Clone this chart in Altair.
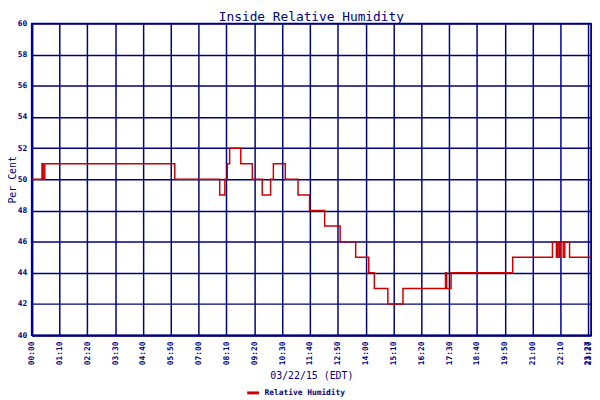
import altair as alt
import pandas as pd

# Time of reading (minutes after midnight) and relative humidity (%)
minutes = [0, 26, 29, 33, 360, 473, 486, 492, 498, 526, 555, 580, 601, 608,
           638, 670, 699, 737, 776, 815, 848, 862, 896, 934, 1041, 1044, 1055,
           1210, 1310, 1320, 1323, 1327, 1329, 1337, 1341, 1353, 1407]
humidity = [50, 51, 50, 51, 50, 49, 50, 51, 52, 51, 50, 49, 50, 51,
            50, 49, 48, 47, 46, 45, 44, 43, 42, 43, 44, 43, 44,
            45, 46, 45, 46, 45, 46, 45, 46, 45, 45]
series_name = "Relative Humidity"
chart_title = ["Inside Relative Humidity"]
x_ticks = [0, 70, 140, 210, 280, 350, 420, 490, 560, 630, 700, 770, 840,
           910, 980, 1050, 1120, 1190, 1260, 1330, 1400, 1407]
y_ticks = [40, 42, 44, 46, 48, 50, 52, 54, 56, 58, 60]

df = pd.DataFrame({"minute": minutes, "rh": humidity, "series": series_name})
title_df = pd.DataFrame({"t": chart_title})

NAVY = "#000080"
FONT = "DejaVu Sans Mono"

label_expr = ("(floor(datum.value/60)<10?'0':'') + floor(datum.value/60) + ':' + "
              "(datum.value%60<10?'0':'') + (datum.value%60)")

line = alt.Chart(df).mark_line(interpolate="step-after", strokeWidth=1.5).encode(
    x=alt.X(
        "minute:Q",
        scale=alt.Scale(domain=[0, 1407], nice=False, zero=False),
        axis=alt.Axis(
            values=x_ticks, labelExpr=label_expr, labelAngle=270,
            labelAlign="right",
            labelBaseline={"condition": {"test": "datum.value >= 1407", "value": "bottom"},
                           "value": "middle"},
            labelPadding=6,
            ticks=False, labelOverlap=False, labelFlush=False,
            labelFont=FONT, labelFontSize=8, labelFontWeight="bold", labelColor=NAVY,
            title="03/22/15 (EDT)", titleY=44, titleBaseline="alphabetic",
            titleFont=FONT, titleFontSize=10, titleFontWeight="normal", titleColor=NAVY,
            grid=True, gridColor=NAVY, gridWidth=1.5, gridOpacity=1,
            domainColor=NAVY, domainWidth=2,
        ),
    ),
    y=alt.Y(
        "rh:Q",
        scale=alt.Scale(domain=[40, 60], nice=False, zero=False),
        axis=alt.Axis(
            values=y_ticks, ticks=False, labelPadding=5, labelOverlap=False,
            labelFlush=False, labelBaseline="middle",
            labelFont=FONT, labelFontSize=8, labelFontWeight="bold", labelColor=NAVY,
            title="Per Cent", titleX=-16.5, titleY=158, titleAngle=270,
            titleBaseline="alphabetic", titleAlign="center",
            titleFont=FONT, titleFontSize=10, titleFontWeight="normal", titleColor=NAVY,
            grid=True, gridColor=NAVY, gridWidth=1.5, gridOpacity=1,
            domainColor=NAVY, domainWidth=2.5,
        ),
    ),
    color=alt.Color(
        "series:N",
        scale=alt.Scale(range=["#cc0000"]),
        legend=alt.Legend(
            title=None, orient="none", legendX=217, legendY=367,
            symbolType="stroke", symbolSize=144, symbolStrokeWidth=3,
            labelFont=FONT, labelFontSize=8, labelFontWeight="bold",
            labelColor=NAVY, padding=0, labelOffset=4,
        ),
    ),
)

title = alt.Chart(title_df).mark_text(
    font=FONT, fontSize=13, color=NAVY, align="center", baseline="alphabetic",
).encode(
    text="t:N",
    x=alt.value(283.5),
    y=alt.value(-3),
)

chart = alt.layer(line, title).properties(
    width=567,
    height=316,
    autosize=alt.AutoSizeParams(type="none"),
    padding={"left": 24, "top": 13, "right": 1, "bottom": 62},
    background="white",
).configure_view(stroke=NAVY, strokeWidth=1.5)

chart.save("out.html", embed_options={"renderer": "svg", "actions": False})
